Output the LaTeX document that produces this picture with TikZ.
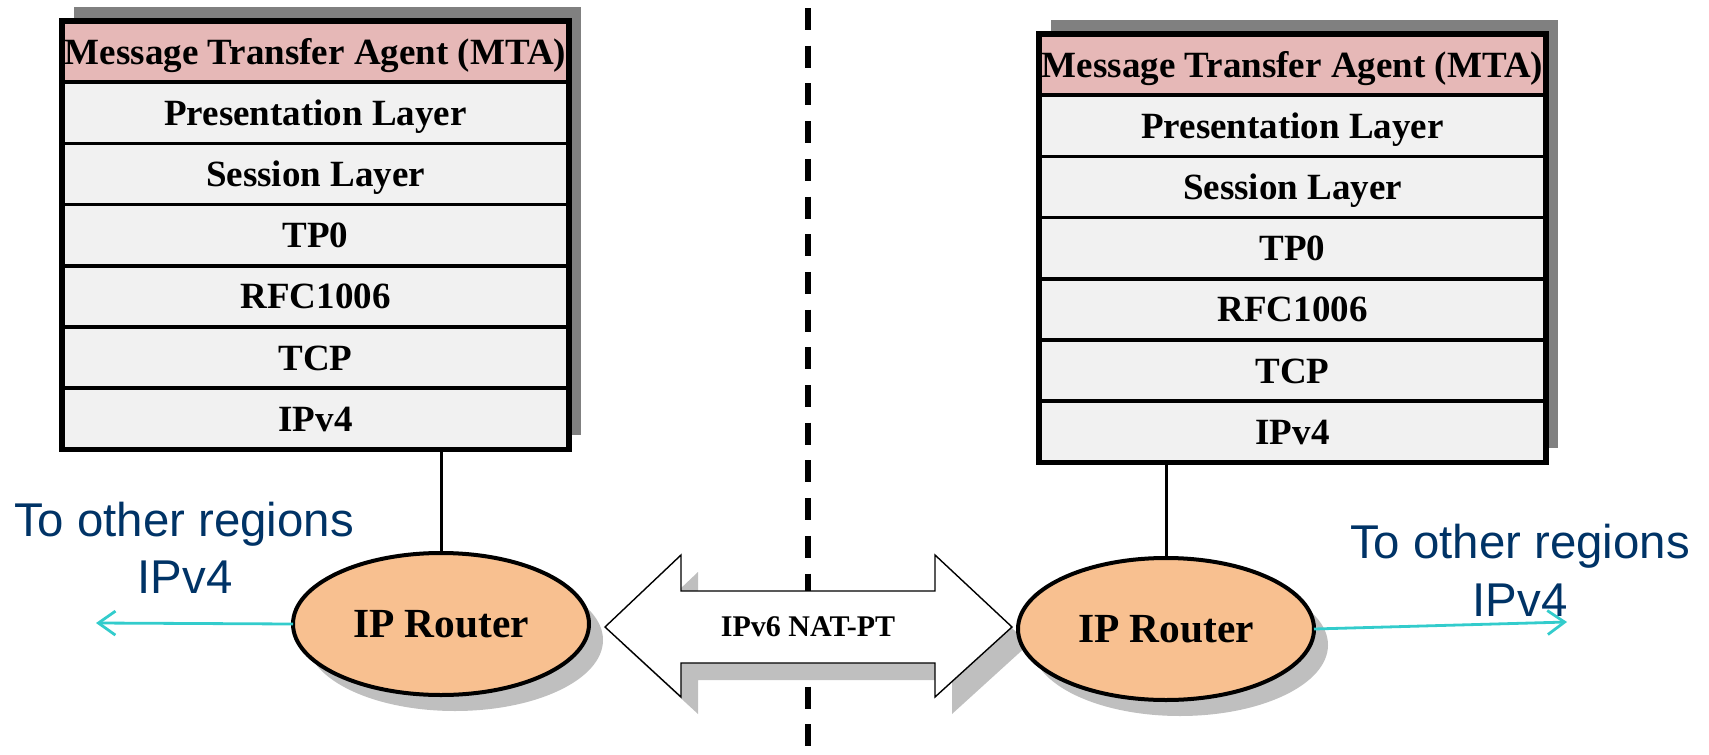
\documentclass[tikz,border=0pt]{standalone}
\usepackage{fontspec}
\setmainfont{Liberation Serif}
\newfontfamily\arialfont{Liberation Sans}
\usetikzlibrary{arrows.meta,shapes.geometric,backgrounds,calc}
\definecolor{mtapink}{RGB}{230,184,183}
\definecolor{rowgray}{RGB}{241,241,241}
\definecolor{boxshadow}{RGB}{128,128,128}
\definecolor{softshadow}{RGB}{191,191,191}
\definecolor{routerfill}{RGB}{248,192,144}
\definecolor{regionblue}{RGB}{0,51,102}
\definecolor{linkcyan}{RGB}{51,204,204}

\begin{document}
\begin{tikzpicture}[x=0.5pt,y=-0.5pt,
  layer/.style={draw=black, line width=1.8pt, fill=rowgray, anchor=north west,
    minimum width=253.5pt, minimum height=30.6pt, inner sep=0pt, outer sep=0pt,
    font=\bfseries\fontsize{18.5}{20}\selectfont, text height=1.28em, text depth=0.04em},
  mta/.style={layer, fill=mtapink},
  frame/.style={draw=black, line width=2.6pt},
  router/.style={ellipse, draw=black, line width=2pt, fill=routerfill,
    minimum width=148pt, minimum height=71pt, inner sep=0pt, outer sep=0pt,
    font=\bfseries\fontsize{20.7}{22}\selectfont},
  routershadow/.style={fill=softshadow},
  stub/.style={draw=black, line width=1.5pt},
  region/.style={text=regionblue, font=\arialfont\fontsize{23.7}{26}\selectfont, anchor=base, inner sep=0pt},
  outlink/.style={draw=linkcyan, line width=1.4pt, -{Straight Barb[length=8.5pt,width=12pt]}},
  divider/.style={draw=black, line width=2.6pt, dash pattern=on 11pt off 7.85pt},
  natarrow/.style={draw=black, line width=0.7pt, fill=white},
  natlabel/.style={font=\bfseries\fontsize{15}{17}\selectfont, inner sep=0pt}
]
\useasboundingbox (0,0) rectangle (1709,755);

% left protocol stack
\node[mta]   (L1) at (62,21) {Message Transfer Agent (MTA)};
\node[layer] (L2) at (L1.south west) {Presentation Layer};
\node[layer] (L3) at (L2.south west) {Session Layer};
\node[layer] (L4) at (L3.south west) {TP0};
\node[layer] (L5) at (L4.south west) {RFC1006};
\node[layer] (L6) at (L5.south west) {TCP};
\node[layer] (L7) at (L6.south west) {IPv4};
\draw[frame] (L1.north west) rectangle (L7.south east);

% right protocol stack
\node[mta]   (S1) at (1039,34) {Message Transfer Agent (MTA)};
\node[layer] (S2) at (S1.south west) {Presentation Layer};
\node[layer] (S3) at (S2.south west) {Session Layer};
\node[layer] (S4) at (S3.south west) {TP0};
\node[layer] (S5) at (S4.south west) {RFC1006};
\node[layer] (S6) at (S5.south west) {TCP};
\node[layer] (S7) at (S6.south west) {IPv4};
\draw[frame] (S1.north west) rectangle (S7.south east);

% raised shadows behind the stacks
\begin{scope}[on background layer]
  \fill[boxshadow] ($(L1.north west)+(12,-14)$) rectangle ($(L7.south east)+(12,-14)$);
  \fill[boxshadow] ($(S1.north west)+(12,-14)$) rectangle ($(S7.south east)+(12,-14)$);
\end{scope}

% border between the two regions
\coordinate (divTop) at (808,8);
\coordinate (divBot) at (808,760);
\draw[divider] (divTop) -- (divBot);

% NAT-PT double arrow with its shadow
\fill[softshadow, shift={(17,17)}]
  (605,627) -- (681,555) -- (681,591) -- (935,591) -- (935,555) -- (1012,627)
  -- (935,697) -- (935,663) -- (681,663) -- (681,697) -- cycle;
\draw[natarrow]
  (605,627) -- (681,555) -- (681,591) -- (935,591) -- (935,555) -- (1012,627)
  -- (935,697) -- (935,663) -- (681,663) -- (681,697) -- cycle;
\node[natlabel] (nat) at (808,627) {IPv6 NAT-PT};

% routers
\fill[routershadow] (455,640) ellipse [x radius=74pt, y radius=35.5pt];
\fill[routershadow] (1180,645) ellipse [x radius=74pt, y radius=35.5pt];
\node[router] (R1) at (441,624) {IP Router};
\node[router] (R2) at (1166,629) {IP Router};

% stacks attached to routers
\draw[stub] (R1.north) -- (R1.north |- L7.south);
\draw[stub] (R2.north) -- (R2.north |- S7.south);

% links to the other IPv4 regions
\coordinate (outL) at (96,623);
\coordinate (outR) at (1567,622);
\draw[outlink] (R1.west) -- (outL);
\draw[outlink] (R2.east) -- (outR);

\node[region] (regLa) at (184,536) {To other regions};
\node[region] (regLb) at (185,593) {IPv4};
\node[region] (regRa) at (1520,558) {To other regions};
\node[region] (regRb) at (1520,616) {IPv4};
\end{tikzpicture}
\end{document}
